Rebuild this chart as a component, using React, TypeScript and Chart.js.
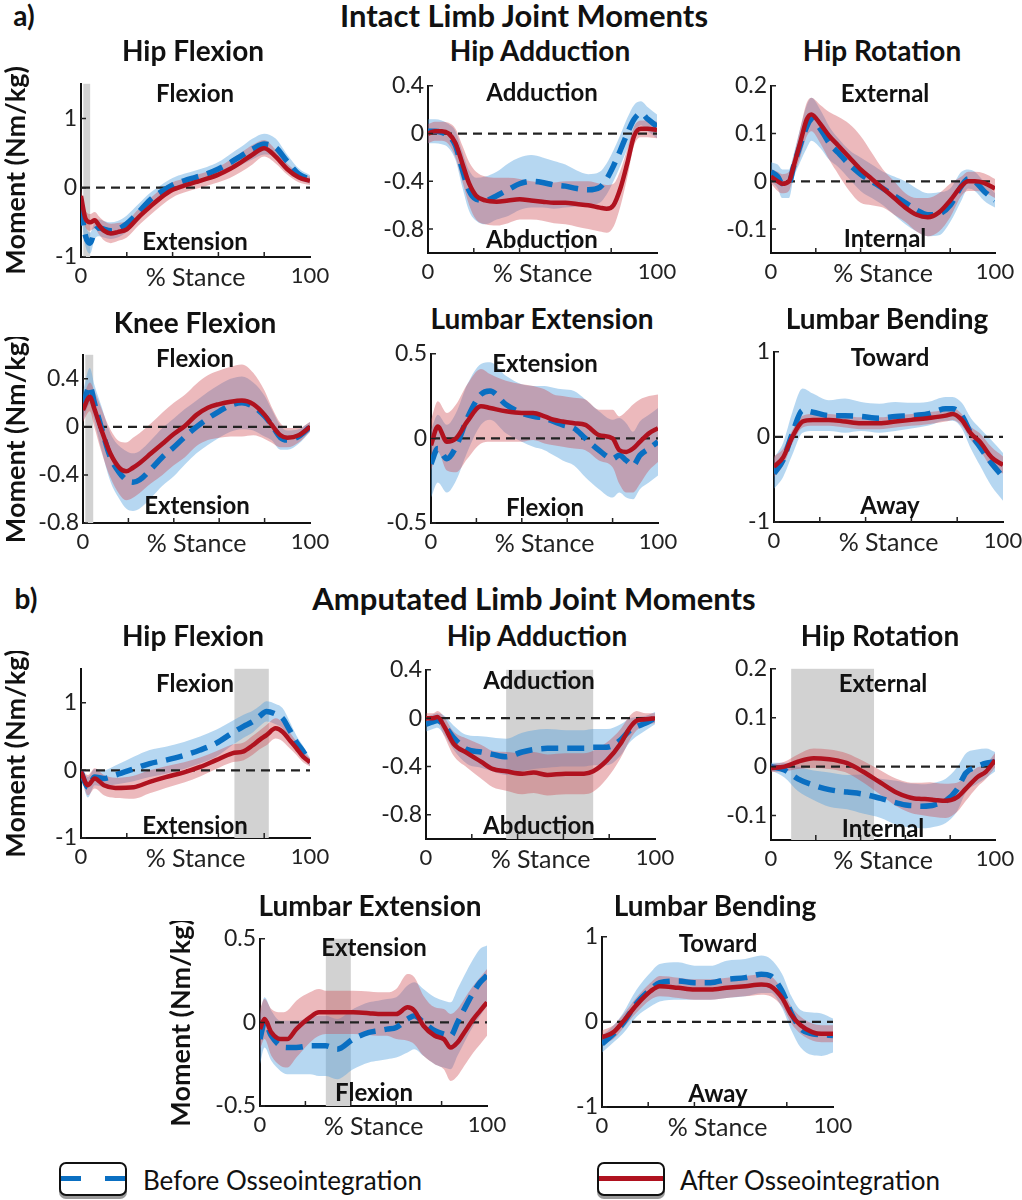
import React, { useEffect, useRef } from "react";
import { Chart, registerables } from "chart.js";
Chart.register(...registerables);

const FONT = "Lato, 'Open Sans', sans-serif";
const BLUE = "#0a6fc2";
const RED = "#b0121f";
const BLUE_BAND = "rgba(80,160,222,0.42)";
const RED_BAND = "rgba(205,70,80,0.38)";
const GRAY = "#d2d2d2";

// shared axis values
const stanceTicks = [0, 50, 100];
const stanceLabels = ["0", "% Stance", "100"];
const stanceMinorTicks = [20, 40, 60, 80];

// ---------- a) Intact: Hip Flexion ----------
const intHipFlexX = [0, 2, 4, 6, 8, 10, 13, 16, 20, 25, 30, 35, 40, 45, 50, 55, 60, 65, 70, 75, 80, 85, 90, 95, 100];
const intHipFlexAfterMean = [-0.12, -0.45, -0.5, -0.47, -0.55, -0.62, -0.66, -0.64, -0.6, -0.43, -0.28, -0.14, -0.03, 0.03, 0.08, 0.13, 0.19, 0.27, 0.37, 0.48, 0.57, 0.45, 0.27, 0.15, 0.1];
const intHipFlexAfterSd = [0.1, 0.12, 0.12, 0.12, 0.13, 0.14, 0.14, 0.13, 0.12, 0.12, 0.12, 0.12, 0.11, 0.1, 0.1, 0.1, 0.11, 0.13, 0.14, 0.14, 0.12, 0.1, 0.08, 0.07, 0.06];
const intHipFlexBeforeMean = [-0.3, -0.7, -0.8, -0.62, -0.58, -0.6, -0.62, -0.6, -0.52, -0.36, -0.18, -0.06, 0.04, 0.1, 0.15, 0.2, 0.27, 0.36, 0.46, 0.56, 0.63, 0.58, 0.38, 0.2, 0.12];
const intHipFlexBeforeSd = [0.1, 0.15, 0.15, 0.12, 0.12, 0.12, 0.12, 0.12, 0.12, 0.12, 0.1, 0.1, 0.1, 0.1, 0.1, 0.1, 0.1, 0.12, 0.13, 0.15, 0.15, 0.13, 0.1, 0.08, 0.06];
const intHipFlexTicks = [-1, 0, 1];
const intHipFlexGray = [1, 4];

// ---------- a) Intact: Hip Adduction ----------
const intHipAddX = [0, 3, 6, 9, 12, 15, 18, 21, 25, 30, 35, 40, 45, 50, 55, 60, 65, 70, 75, 78, 81, 84, 87, 90, 93, 96, 100];
const intHipAddAfterMean = [0.0, 0.02, 0.02, 0.0, -0.08, -0.25, -0.42, -0.52, -0.56, -0.57, -0.56, -0.55, -0.56, -0.57, -0.58, -0.58, -0.59, -0.6, -0.62, -0.63, -0.6, -0.46, -0.25, -0.02, 0.04, 0.04, 0.03];
const intHipAddAfterSd = [0.08, 0.08, 0.08, 0.09, 0.12, 0.15, 0.18, 0.2, 0.2, 0.2, 0.19, 0.17, 0.16, 0.16, 0.17, 0.18, 0.19, 0.2, 0.2, 0.2, 0.18, 0.15, 0.12, 0.08, 0.07, 0.07, 0.07];
const intHipAddBeforeMean = [0.02, 0.02, 0.01, -0.02, -0.1, -0.3, -0.48, -0.55, -0.56, -0.52, -0.47, -0.42, -0.4, -0.41, -0.43, -0.44, -0.46, -0.47, -0.45, -0.38, -0.27, -0.14, 0.0, 0.12, 0.17, 0.12, 0.06];
const intHipAddBeforeSd = [0.1, 0.1, 0.1, 0.1, 0.12, 0.15, 0.17, 0.18, 0.2, 0.2, 0.22, 0.22, 0.22, 0.21, 0.2, 0.18, 0.15, 0.13, 0.13, 0.13, 0.13, 0.13, 0.13, 0.12, 0.1, 0.1, 0.1];
const intHipAddTicks = [-0.8, -0.4, 0, 0.4];

// ---------- a) Intact: Hip Rotation ----------
const intHipRotX = [0, 3, 5, 8, 10, 13, 16, 18, 22, 26, 30, 35, 40, 45, 50, 55, 60, 65, 70, 75, 80, 85, 88, 91, 95, 100];
const intHipRotAfterMean = [0.01, 0.0, -0.005, 0.0, 0.03, 0.08, 0.13, 0.14, 0.12, 0.095, 0.075, 0.05, 0.025, 0.005, -0.015, -0.035, -0.055, -0.07, -0.075, -0.065, -0.04, -0.01, 0.0, 0.0, -0.003, -0.015];
const intHipRotAfterSd = [0.015, 0.02, 0.02, 0.02, 0.02, 0.03, 0.035, 0.035, 0.04, 0.05, 0.06, 0.07, 0.07, 0.055, 0.04, 0.035, 0.03, 0.035, 0.04, 0.04, 0.035, 0.02, 0.02, 0.02, 0.02, 0.02];
const intHipRotBeforeMean = [0.02, 0.01, -0.005, -0.005, 0.03, 0.075, 0.115, 0.13, 0.11, 0.08, 0.06, 0.035, 0.015, 0.0, -0.015, -0.03, -0.045, -0.06, -0.07, -0.068, -0.05, -0.01, 0.005, 0.0, -0.02, -0.04];
const intHipRotBeforeSd = [0.02, 0.025, 0.03, 0.03, 0.025, 0.035, 0.045, 0.045, 0.04, 0.035, 0.03, 0.03, 0.035, 0.035, 0.035, 0.04, 0.045, 0.045, 0.045, 0.045, 0.035, 0.03, 0.02, 0.02, 0.02, 0.015];
const intHipRotTicks = [-0.1, 0, 0.1, 0.2];

// ---------- a) Intact: Knee Flexion ----------
const intKneeX = [0, 3, 5, 8, 12, 16, 19, 22, 25, 30, 35, 40, 45, 50, 55, 60, 65, 70, 75, 80, 83, 87, 90, 95, 100];
const intKneeAfterMean = [0.14, 0.25, 0.15, -0.02, -0.22, -0.34, -0.37, -0.34, -0.3, -0.22, -0.14, -0.06, 0.01, 0.1, 0.16, 0.19, 0.21, 0.22, 0.19, 0.1, 0.02, -0.07, -0.09, -0.07, 0.0];
const intKneeAfterSd = [0.1, 0.12, 0.15, 0.18, 0.2, 0.22, 0.24, 0.25, 0.25, 0.25, 0.26, 0.26, 0.26, 0.26, 0.27, 0.28, 0.29, 0.3, 0.26, 0.2, 0.15, 0.1, 0.08, 0.06, 0.04];
const intKneeBeforeMean = [0.17, 0.34, 0.2, 0.0, -0.25, -0.38, -0.44, -0.46, -0.44, -0.35, -0.25, -0.17, -0.08, 0.0, 0.07, 0.13, 0.18, 0.2, 0.17, 0.09, 0.02, -0.09, -0.11, -0.08, 0.0];
const intKneeBeforeSd = [0.12, 0.15, 0.15, 0.18, 0.2, 0.22, 0.24, 0.24, 0.24, 0.24, 0.24, 0.24, 0.23, 0.22, 0.22, 0.22, 0.22, 0.22, 0.2, 0.17, 0.13, 0.1, 0.08, 0.06, 0.04];
const intKneeTicks = [-0.8, -0.4, 0, 0.4];
const intKneeGray = [1, 4.5];

// ---------- a) Intact: Lumbar Extension ----------
const intLumExtX = [0, 3, 7, 11, 16, 22, 26, 33, 40, 45, 50, 54, 58, 63, 68, 74, 80, 83, 86, 89, 92, 96, 100];
const intLumExtAfterMean = [-0.04, 0.07, -0.02, 0.0, 0.1, 0.19, 0.18, 0.16, 0.15, 0.15, 0.13, 0.11, 0.1, 0.09, 0.08, 0.02, 0.0, -0.07, -0.08, -0.06, -0.02, 0.03, 0.06];
const intLumExtAfterSd = [0.15, 0.15, 0.17, 0.2, 0.22, 0.22, 0.2, 0.18, 0.17, 0.16, 0.16, 0.15, 0.15, 0.15, 0.15, 0.15, 0.17, 0.2, 0.24, 0.26, 0.25, 0.22, 0.2];
const intLumExtBeforeMean = [-0.15, -0.06, -0.12, -0.05, 0.12, 0.26, 0.28, 0.2, 0.15, 0.13, 0.12, 0.1, 0.08, 0.06, 0.0, -0.07, -0.12, -0.1, -0.13, -0.16, -0.1, -0.06, -0.02];
const intLumExtBeforeSd = [0.2, 0.2, 0.2, 0.2, 0.2, 0.18, 0.17, 0.17, 0.17, 0.18, 0.19, 0.2, 0.21, 0.22, 0.23, 0.23, 0.23, 0.22, 0.22, 0.2, 0.2, 0.2, 0.2];
const lumExtTicks = [-0.5, 0, 0.5];

// ---------- a) Intact: Lumbar Bending ----------
const intLumBendX = [0, 4, 8, 12.5, 17, 24, 31, 38, 46, 53, 60, 67, 75, 78, 82, 86, 90, 95, 100];
const intLumBendAfterMean = [-0.35, -0.24, 0.0, 0.18, 0.2, 0.2, 0.18, 0.16, 0.16, 0.18, 0.2, 0.22, 0.25, 0.27, 0.2, 0.04, -0.06, -0.24, -0.33];
const intLumBendAfterSd = [0.12, 0.1, 0.08, 0.07, 0.07, 0.07, 0.07, 0.07, 0.07, 0.07, 0.07, 0.07, 0.07, 0.07, 0.07, 0.08, 0.1, 0.12, 0.1];
const intLumBendBeforeMean = [-0.43, -0.27, 0.04, 0.31, 0.29, 0.25, 0.25, 0.24, 0.22, 0.24, 0.25, 0.27, 0.33, 0.33, 0.25, 0.04, -0.12, -0.31, -0.47];
const intLumBendBeforeSd = [0.18, 0.2, 0.25, 0.26, 0.22, 0.18, 0.2, 0.17, 0.17, 0.17, 0.15, 0.14, 0.14, 0.14, 0.15, 0.18, 0.22, 0.27, 0.28];
const lumBendTicks = [-1, 0, 1];

// ---------- b) Amputated: Hip Flexion ----------
const ampHipFlexX = [0, 3, 6, 10, 15, 23, 30, 37, 45, 52, 59, 66, 71, 75, 78, 81, 85, 88, 91, 94, 97, 100];
const ampHipFlexAfterMean = [-0.02, -0.22, -0.12, -0.22, -0.26, -0.25, -0.17, -0.1, -0.03, 0.05, 0.15, 0.25, 0.28, 0.37, 0.45, 0.52, 0.62, 0.57, 0.45, 0.33, 0.2, 0.12];
const ampHipFlexAfterSd = [0.05, 0.15, 0.15, 0.15, 0.15, 0.17, 0.17, 0.16, 0.15, 0.14, 0.13, 0.13, 0.13, 0.14, 0.14, 0.15, 0.15, 0.14, 0.12, 0.1, 0.08, 0.06];
const ampHipFlexBeforeMean = [-0.02, -0.25, -0.1, -0.12, -0.07, 0.02, 0.1, 0.15, 0.22, 0.3, 0.4, 0.55, 0.65, 0.72, 0.8, 0.87, 0.83, 0.77, 0.6, 0.42, 0.28, 0.12];
const ampHipFlexBeforeSd = [0.05, 0.15, 0.12, 0.12, 0.14, 0.18, 0.2, 0.2, 0.2, 0.2, 0.2, 0.18, 0.17, 0.16, 0.15, 0.15, 0.15, 0.15, 0.13, 0.1, 0.08, 0.06];
const ampHipFlexGray = [67, 82];

// ---------- b) Amputated: Hip Adduction ----------
const ampHipAddX = [0, 3, 5, 8, 12, 18, 24, 29, 35, 42, 47, 53, 61, 69, 73, 79, 85, 89, 92, 96, 100];
const ampHipAddAfterMean = [0.0, 0.0, 0.01, -0.07, -0.21, -0.29, -0.36, -0.42, -0.44, -0.46, -0.45, -0.47, -0.46, -0.46, -0.44, -0.35, -0.21, -0.08, -0.02, -0.01, 0.0];
const ampHipAddAfterSd = [0.04, 0.04, 0.05, 0.08, 0.1, 0.12, 0.14, 0.15, 0.16, 0.17, 0.17, 0.17, 0.17, 0.17, 0.17, 0.15, 0.12, 0.1, 0.08, 0.05, 0.04];
const ampHipAddBeforeMean = [-0.05, -0.03, -0.02, -0.06, -0.16, -0.26, -0.28, -0.3, -0.32, -0.28, -0.26, -0.25, -0.25, -0.25, -0.24, -0.24, -0.18, -0.1, -0.07, -0.04, 0.0];
const ampHipAddBeforeSd = [0.06, 0.06, 0.06, 0.08, 0.1, 0.12, 0.13, 0.14, 0.15, 0.16, 0.16, 0.16, 0.15, 0.15, 0.15, 0.15, 0.13, 0.1, 0.08, 0.06, 0.05];
const ampHipAddGray = [35, 73];

// ---------- b) Amputated: Hip Rotation ----------
const ampHipRotX = [0, 6, 12, 19, 26, 30, 34, 41, 49, 56, 61, 64, 67, 71, 73, 78, 83, 87, 92, 96, 100];
const ampHipRotAfterMean = [-0.003, 0.0, 0.01, 0.017, 0.015, 0.012, 0.007, -0.01, -0.033, -0.053, -0.062, -0.065, -0.066, -0.067, -0.068, -0.07, -0.063, -0.045, -0.022, -0.01, 0.013];
const ampHipRotAfterSd = [0.008, 0.01, 0.015, 0.02, 0.02, 0.02, 0.02, 0.022, 0.025, 0.028, 0.03, 0.032, 0.033, 0.035, 0.035, 0.035, 0.03, 0.025, 0.02, 0.015, 0.015];
const ampHipRotBeforeMean = [0.0, -0.007, -0.025, -0.038, -0.047, -0.05, -0.052, -0.056, -0.065, -0.074, -0.079, -0.08, -0.081, -0.08, -0.078, -0.07, -0.047, -0.013, 0.0, 0.007, 0.01];
const ampHipRotBeforeSd = [0.008, 0.015, 0.025, 0.03, 0.035, 0.035, 0.035, 0.04, 0.04, 0.045, 0.045, 0.045, 0.045, 0.045, 0.045, 0.045, 0.045, 0.04, 0.035, 0.03, 0.02];
const ampHipRotGray = [9, 46];

// ---------- b) Amputated: Lumbar Extension ----------
const ampLumExtX = [0, 2, 5, 9, 12, 16, 22, 26, 29, 34, 41, 48, 52, 56, 60, 65, 68, 72, 77, 81, 84, 87, 90, 94, 97, 100];
const ampLumExtAfterMean = [-0.04, 0.02, -0.06, -0.1, -0.1, -0.04, 0.03, 0.06, 0.06, 0.06, 0.06, 0.055, 0.05, 0.05, 0.05, 0.09, 0.07, -0.02, -0.08, -0.1, -0.15, -0.12, -0.06, 0.02, 0.07, 0.12];
const ampLumExtAfterSd = [0.12, 0.12, 0.14, 0.16, 0.17, 0.17, 0.15, 0.14, 0.13, 0.13, 0.13, 0.13, 0.13, 0.13, 0.15, 0.2, 0.2, 0.18, 0.17, 0.18, 0.2, 0.2, 0.2, 0.2, 0.2, 0.2];
const ampLumExtBeforeMean = [-0.1, 0.0, -0.08, -0.14, -0.15, -0.15, -0.14, -0.14, -0.14, -0.16, -0.1, -0.06, -0.05, -0.04, -0.03, 0.02, 0.04, 0.0, -0.05, -0.07, -0.08, 0.0, 0.08, 0.18, 0.24, 0.28];
const ampLumExtBeforeSd = [0.15, 0.15, 0.15, 0.15, 0.16, 0.16, 0.17, 0.18, 0.18, 0.18, 0.18, 0.18, 0.18, 0.18, 0.18, 0.2, 0.2, 0.2, 0.2, 0.2, 0.2, 0.2, 0.2, 0.2, 0.2, 0.18];
const ampLumExtGray = [29, 40];

// ---------- b) Amputated: Lumbar Bending ----------
const ampLumBendX = [0, 5, 9, 15, 21, 25, 33, 40, 47, 54, 62, 69, 73, 78, 82, 86, 91, 95, 100];
const ampLumBendAfterMean = [-0.18, -0.12, 0.0, 0.2, 0.36, 0.42, 0.4, 0.38, 0.38, 0.4, 0.42, 0.44, 0.42, 0.28, 0.08, -0.04, -0.12, -0.14, -0.14];
const ampLumBendAfterSd = [0.08, 0.08, 0.08, 0.09, 0.1, 0.12, 0.12, 0.12, 0.12, 0.12, 0.12, 0.12, 0.12, 0.1, 0.1, 0.1, 0.1, 0.1, 0.1];
const ampLumBendBeforeMean = [-0.26, -0.14, -0.02, 0.22, 0.38, 0.46, 0.48, 0.46, 0.46, 0.5, 0.52, 0.56, 0.54, 0.36, 0.1, -0.08, -0.14, -0.15, -0.16];
const ampLumBendBeforeSd = [0.1, 0.1, 0.12, 0.16, 0.2, 0.22, 0.22, 0.2, 0.2, 0.22, 0.22, 0.22, 0.2, 0.2, 0.2, 0.22, 0.25, 0.25, 0.2];

type PanelDef = {
  title: string; titlePos: [number, number];
  top: string; bottom: string; topPos: [number, number]; bottomPos: [number, number];
  box: [number, number, number, number]; L: number; ytitle: boolean;
  yMin: number; yMax: number; yTicks: number[]; gray: number[] | null;
  x: number[]; bm: number[]; bs: number[]; am: number[]; as: number[];
};

const panels: PanelDef[] = [
  { title: "Hip Flexion", titlePos: [193, 50], top: "Flexion", bottom: "Extension", topPos: [195, 93], bottomPos: [195, 241],
    box: [81, 82, 310, 257], L: 81, ytitle: true, yMin: -1, yMax: 1.5, yTicks: intHipFlexTicks, gray: intHipFlexGray,
    x: intHipFlexX, bm: intHipFlexBeforeMean, bs: intHipFlexBeforeSd, am: intHipFlexAfterMean, as: intHipFlexAfterSd },
  { title: "Hip Adduction", titlePos: [540, 50], top: "Adduction", bottom: "Abduction", topPos: [542, 92], bottomPos: [542, 239],
    box: [428, 84, 657, 253], L: 70, ytitle: false, yMin: -1, yMax: 0.4, yTicks: intHipAddTicks, gray: null,
    x: intHipAddX, bm: intHipAddBeforeMean, bs: intHipAddBeforeSd, am: intHipAddAfterMean, as: intHipAddAfterSd },
  { title: "Hip Rotation", titlePos: [882, 50], top: "External", bottom: "Internal", topPos: [885, 93], bottomPos: [885, 238],
    box: [771, 84, 995, 253], L: 70, ytitle: false, yMin: -0.15, yMax: 0.2, yTicks: intHipRotTicks, gray: null,
    x: intHipRotX, bm: intHipRotBeforeMean, bs: intHipRotBeforeSd, am: intHipRotAfterMean, as: intHipRotAfterSd },
  { title: "Knee Flexion", titlePos: [195, 322], top: "Flexion", bottom: "Extension", topPos: [195, 358], bottomPos: [197, 505],
    box: [83, 353, 310, 523], L: 83, ytitle: true, yMin: -0.8, yMax: 0.6, yTicks: intKneeTicks, gray: intKneeGray,
    x: intKneeX, bm: intKneeBeforeMean, bs: intKneeBeforeSd, am: intKneeAfterMean, as: intKneeAfterSd },
  { title: "Lumbar Extension", titlePos: [542, 318], top: "Extension", bottom: "Flexion", topPos: [545, 363], bottomPos: [545, 507],
    box: [431, 352, 658, 523], L: 70, ytitle: false, yMin: -0.5, yMax: 0.5, yTicks: lumExtTicks, gray: null,
    x: intLumExtX, bm: intLumExtBeforeMean, bs: intLumExtBeforeSd, am: intLumExtAfterMean, as: intLumExtAfterSd },
  { title: "Lumbar Bending", titlePos: [887, 318], top: "Toward", bottom: "Away", topPos: [890, 357], bottomPos: [890, 505],
    box: [774, 350, 1003, 522], L: 70, ytitle: false, yMin: -1, yMax: 1, yTicks: lumBendTicks, gray: null,
    x: intLumBendX, bm: intLumBendBeforeMean, bs: intLumBendBeforeSd, am: intLumBendAfterMean, as: intLumBendAfterSd },
  { title: "Hip Flexion", titlePos: [193, 635], top: "Flexion", bottom: "Extension", topPos: [195, 683], bottomPos: [195, 825],
    box: [81, 667, 310, 838], L: 81, ytitle: true, yMin: -1, yMax: 1.5, yTicks: intHipFlexTicks, gray: ampHipFlexGray,
    x: ampHipFlexX, bm: ampHipFlexBeforeMean, bs: ampHipFlexBeforeSd, am: ampHipFlexAfterMean, as: ampHipFlexAfterSd },
  { title: "Hip Adduction", titlePos: [537, 635], top: "Adduction", bottom: "Abduction", topPos: [539, 680], bottomPos: [539, 825],
    box: [426, 668, 655, 839], L: 70, ytitle: false, yMin: -1, yMax: 0.4, yTicks: intHipAddTicks, gray: ampHipAddGray,
    x: ampHipAddX, bm: ampHipAddBeforeMean, bs: ampHipAddBeforeSd, am: ampHipAddAfterMean, as: ampHipAddAfterSd },
  { title: "Hip Rotation", titlePos: [880, 635], top: "External", bottom: "Internal", topPos: [883, 683], bottomPos: [883, 828],
    box: [771, 667, 995, 840], L: 70, ytitle: false, yMin: -0.15, yMax: 0.2, yTicks: intHipRotTicks, gray: ampHipRotGray,
    x: ampHipRotX, bm: ampHipRotBeforeMean, bs: ampHipRotBeforeSd, am: ampHipRotAfterMean, as: ampHipRotAfterSd },
  { title: "Lumbar Extension", titlePos: [370, 905], top: "Extension", bottom: "Flexion", topPos: [374, 947], bottomPos: [374, 1092],
    box: [260, 937, 487, 1106], L: 95, ytitle: true, yMin: -0.5, yMax: 0.5, yTicks: lumExtTicks, gray: ampLumExtGray,
    x: ampLumExtX, bm: ampLumExtBeforeMean, bs: ampLumExtBeforeSd, am: ampLumExtAfterMean, as: ampLumExtAfterSd },
  { title: "Lumbar Bending", titlePos: [715, 905], top: "Toward", bottom: "Away", topPos: [718, 943], bottomPos: [718, 1093],
    box: [602, 935, 833, 1107], L: 70, ytitle: false, yMin: -1, yMax: 1, yTicks: lumBendTicks, gray: null,
    x: ampLumBendX, bm: ampLumBendBeforeMean, bs: ampLumBendBeforeSd, am: ampLumBendAfterMean, as: ampLumBendAfterSd },
];

const T_PAD = 16, B_PAD = 48, R_PAD = 26;

function Panel({ p }: { p: PanelDef }) {
  const ref = useRef<HTMLCanvasElement | null>(null);
  const w = p.box[2] - p.box[0];
  const h = p.box[3] - p.box[1];
  const cw = p.L + w + R_PAD;
  const ch = T_PAD + h + B_PAD;
  useEffect(() => {
    const pts = (vals: number[]) => vals.map((v, i) => ({ x: p.x[i], y: v }));
    const edge = (m: number[], s: number[], sign: number) => m.map((v, i) => ({ x: p.x[i], y: v + sign * s[i] }));
    const plugins = [
      {
        id: "grayBand",
        beforeDatasetsDraw(chart: any) {
          if (!p.gray) return;
          const { ctx, chartArea: a, scales } = chart;
          const x0 = scales.x.getPixelForValue(p.gray[0]);
          const x1 = scales.x.getPixelForValue(p.gray[1]);
          ctx.save();
          ctx.fillStyle = GRAY;
          ctx.fillRect(x0, a.top, x1 - x0, a.bottom - a.top);
          ctx.restore();
        },
      },
      {
        id: "innerTicks",
        afterDraw(chart: any) {
          const { ctx, chartArea: a, scales } = chart;
          ctx.save();
          ctx.strokeStyle = "#222";
          ctx.lineWidth = 1.5;
          ctx.beginPath();
          stanceMinorTicks.forEach((v) => {
            const px = scales.x.getPixelForValue(v);
            ctx.moveTo(px, a.bottom);
            ctx.lineTo(px, a.bottom - 5);
          });
          p.yTicks.forEach((v) => {
            const py = scales.y.getPixelForValue(v);
            ctx.moveTo(a.left, py);
            ctx.lineTo(a.left + 5, py);
          });
          ctx.stroke();
          ctx.restore();
        },
      },
    ];
    const chart = new Chart(ref.current as HTMLCanvasElement, {
      type: "line",
      data: {
        datasets: [
          { data: pts(p.am), borderColor: RED, borderWidth: 4.5, order: 0, fill: false },
          { data: pts(p.bm), borderColor: BLUE, borderWidth: 5.5, borderDash: [17, 9], order: 1, fill: false },
          { data: [{ x: 0, y: 0 }, { x: 100, y: 0 }], borderColor: "#222", borderWidth: 2.2, borderDash: [9, 6], order: 2, fill: false, cubicInterpolationMode: "default", tension: 0 },
          { data: edge(p.am, p.as, 1), borderWidth: 0, borderColor: "transparent", backgroundColor: RED_BAND, fill: "+1", order: 3 },
          { data: edge(p.am, p.as, -1), borderWidth: 0, borderColor: "transparent", fill: false, order: 4 },
          { data: edge(p.bm, p.bs, 1), borderWidth: 0, borderColor: "transparent", backgroundColor: BLUE_BAND, fill: "+1", order: 5 },
          { data: edge(p.bm, p.bs, -1), borderWidth: 0, borderColor: "transparent", fill: false, order: 6 },
        ] as any,
      },
      options: {
        responsive: false,
        animation: false,
        devicePixelRatio: 1,
        layout: { padding: { top: T_PAD, right: R_PAD, left: 0, bottom: 0 } },
        plugins: { legend: { display: false }, tooltip: { enabled: false }, title: { display: false } },
        elements: { point: { radius: 0 }, line: { cubicInterpolationMode: "monotone" } },
        scales: {
          x: {
            type: "linear", min: 0, max: 100,
            afterFit: (s: any) => { s.height = B_PAD; },
            afterBuildTicks: (s: any) => { s.ticks = stanceTicks.map((v) => ({ value: v })); },
            ticks: {
              autoSkip: false, maxRotation: 0, minRotation: 0, padding: 6, color: "#222",
              font: (c: any) => ({ family: FONT, size: c.tick && c.tick.value === 50 ? 25 : 22 }),
              callback: (v: any) => stanceLabels[stanceTicks.indexOf(Number(v))] ?? "",
            },
            grid: { display: false, drawTicks: false },
            border: { display: true, color: "#111", width: 2 },
          },
          y: {
            type: "linear", min: p.yMin, max: p.yMax,
            afterFit: (s: any) => { s.width = p.L; },
            afterBuildTicks: (s: any) => { s.ticks = p.yTicks.map((v) => ({ value: v })); },
            ticks: { padding: 4, color: "#222", font: { family: FONT, size: 23 }, callback: (v: any) => String(v) },
            grid: { display: false, drawTicks: false },
            border: { display: true, color: "#111", width: 2 },
            title: { display: p.ytitle, text: "Moment (Nm/kg)", color: "#111", padding: 0, font: { family: FONT, size: 27, weight: "bold" } },
          },
        },
      } as any,
      plugins: plugins as any,
    });
    return () => chart.destroy();
  }, []);
  return (
    <canvas
      ref={ref}
      width={cw}
      height={ch}
      style={{ position: "absolute", left: p.box[0] - p.L, top: p.box[1] - T_PAD, width: cw, height: ch }}
    />
  );
}

function Label({ text, x, y, size, weight }: { text: string; x: number; y: number; size: number; weight: number }) {
  return (
    <div
      style={{
        position: "absolute", left: x, top: y, transform: "translate(-50%, -50%)",
        fontFamily: FONT, fontSize: size, fontWeight: weight, whiteSpace: "nowrap",
        lineHeight: 1, color: "#111",
      }}
    >
      {text}
    </div>
  );
}

function LegendBox({ left, kind }: { left: number; kind: "before" | "after" }) {
  return (
    <div
      style={{
        position: "absolute", left, top: 1162, width: 68, height: 34, boxSizing: "border-box",
        border: "2px solid #111", borderRadius: 7, background: "#fff", boxShadow: "0 3px 0 #9a9a9a",
      }}
    >
      {kind === "before" ? (
        <>
          <div style={{ position: "absolute", left: 0, top: 12, width: 20, height: 5, background: BLUE }} />
          <div style={{ position: "absolute", right: 0, top: 12, width: 20, height: 5, background: BLUE }} />
        </>
      ) : (
        <div style={{ position: "absolute", left: 0, right: 0, top: 12, height: 5, background: RED }} />
      )}
    </div>
  );
}

export default function App() {
  return (
    <div style={{ position: "absolute", left: 0, top: 0, width: 1022, height: 1200, overflow: "hidden", background: "#fff" }}>
      {panels.map((p, i) => (
        <Panel key={i} p={p} />
      ))}
      {panels.map((p, i) => (
        <React.Fragment key={"t" + i}>
          <Label text={p.title} x={p.titlePos[0]} y={p.titlePos[1]} size={28} weight={700} />
          <Label text={p.top} x={p.topPos[0]} y={p.topPos[1]} size={24} weight={700} />
          <Label text={p.bottom} x={p.bottomPos[0]} y={p.bottomPos[1]} size={24} weight={700} />
        </React.Fragment>
      ))}
      <Label text="a)" x={24} y={15} size={28} weight={700} />
      <Label text="Intact Limb Joint Moments" x={524} y={15} size={31} weight={700} />
      <Label text="b)" x={26} y={598} size={28} weight={700} />
      <Label text="Amputated Limb Joint Moments" x={534} y={598} size={31} weight={700} />
      <LegendBox left={59} kind="before" />
      <div style={{ position: "absolute", left: 143, top: 1167, fontFamily: FONT, fontSize: 26, color: "#111", lineHeight: 1, whiteSpace: "nowrap" }}>Before Osseointegration</div>
      <LegendBox left={597} kind="after" />
      <div style={{ position: "absolute", left: 680, top: 1167, fontFamily: FONT, fontSize: 26, color: "#111", lineHeight: 1, whiteSpace: "nowrap" }}>After Osseointegration</div>
    </div>
  );
}
